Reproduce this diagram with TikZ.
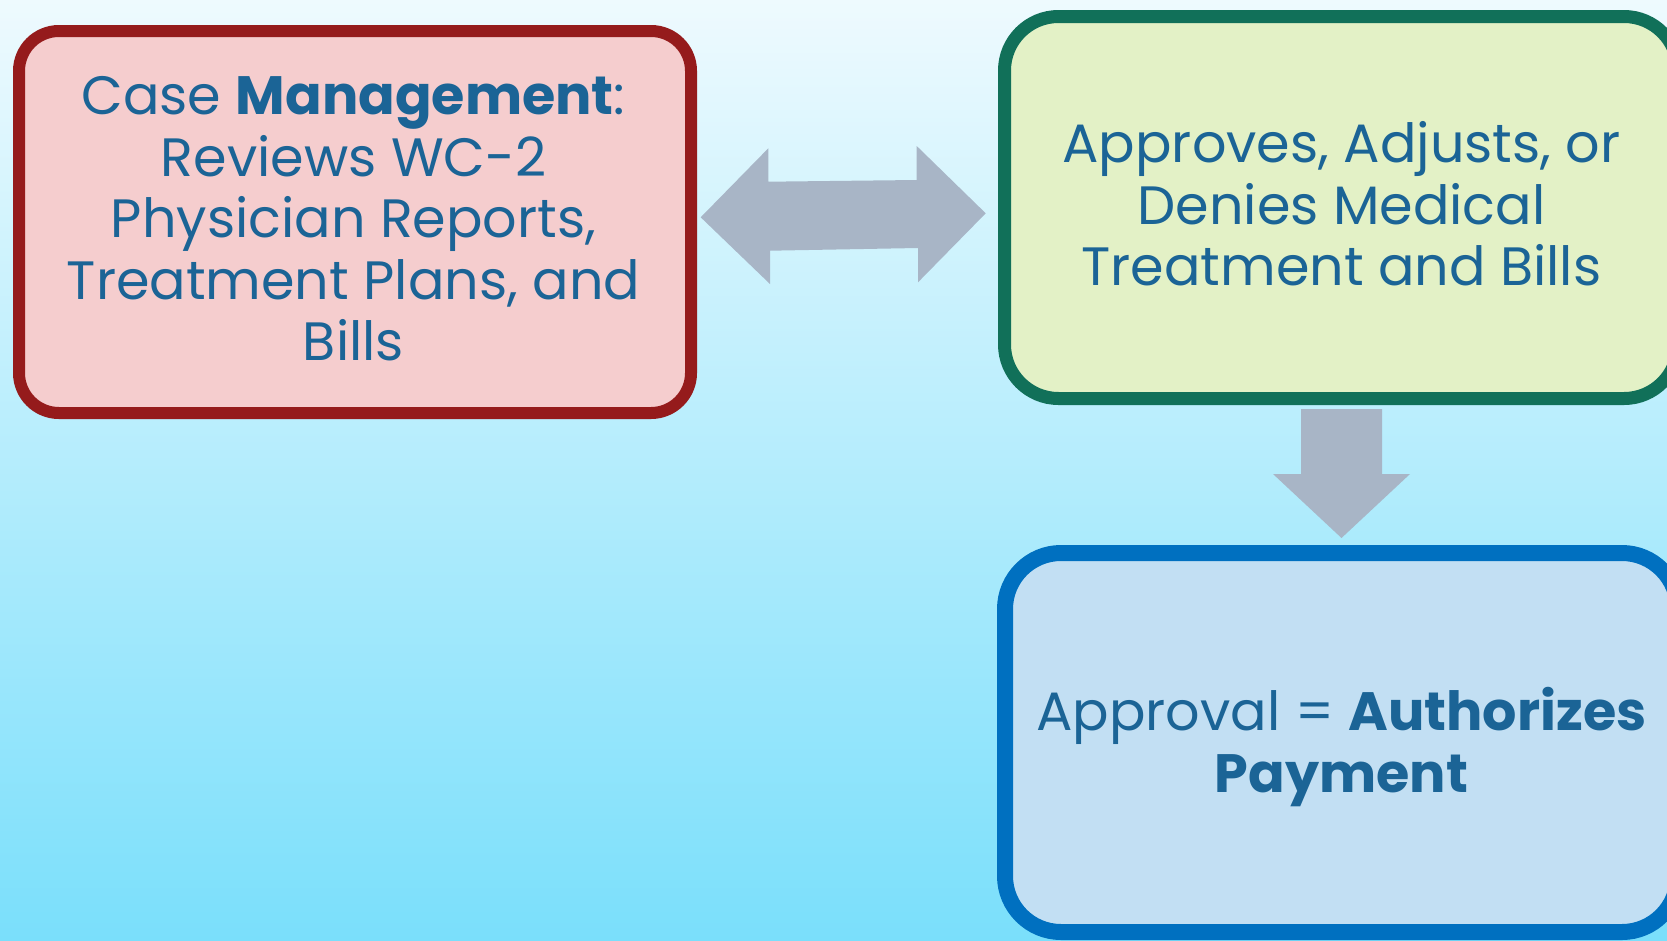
\documentclass[tikz,border=0pt]{standalone}
\usepackage{fontspec}
\setmainfont{Poppins}
\definecolor{bgtop}{RGB}{238,250,254}
\definecolor{bgbot}{RGB}{122,223,251}
\definecolor{redb}{RGB}{149,27,28}
\definecolor{redf}{RGB}{245,205,206}
\definecolor{grnb}{RGB}{17,112,89}
\definecolor{grnf}{RGB}{227,241,198}
\definecolor{blub}{RGB}{0,112,192}
\definecolor{bluf}{RGB}{194,223,243}
\definecolor{txt}{RGB}{27,100,150}
\definecolor{arr}{RGB}{168,181,198}
\begin{document}
\begin{tikzpicture}[x=1pt,y=-1pt,
  box/.style={rectangle,inner sep=0pt,outer sep=0pt},
  lbl/.style={align=center,inner sep=0pt,text=txt,font=\fontsize{54}{61.5}\selectfont},
  blockarrow/.style={fill=arr,draw=none}]
\useasboundingbox (0,0) rectangle (1667,940);
\shade[top color=bgtop,bottom color=bgbot] (0,0) rectangle (1667,940);
% boxes
\node[box,rounded corners=40pt,draw=redb,fill=redf,line width=12pt,minimum width=672pt,minimum height=382pt] (cm) at (355,222) {};
\node[box,rounded corners=54pt,draw=grnb,fill=grnf,line width=13pt,minimum width=673.5pt,minimum height=382pt] (ap) at (1341.25,207.5) {};
\node[box,rounded corners=56pt,draw=blub,fill=bluf,line width=16pt,minimum width=673pt,minimum height=379pt] (pay) at (1341.5,742.5) {};
% texts
\node[lbl] (cmtext) at (353.5,219) {Case \textbf{Management}:\\Reviews WC-2\\Physician Reports,\\Treatment Plans, and\\Bills};
\node[lbl] (aptext) at (1341.5,204) {Approves, Adjusts, or\\Denies Medical\\Treatment and Bills};
\node[lbl] (paytext) at (1341.5,747) {Approval = \textbf{Authorizes}\\\textbf{Payment}};
% double arrow between cm and ap
\coordinate (dl) at (700.7,217.3);
\coordinate (dr) at (985.7,213.3);
\fill[blockarrow] (dl) -- (768.3,148.3) -- (768.3,181.7) -- (916.7,180) -- (916.7,146) -- (dr)
  -- (918,282.3) -- (918,248) -- (770,250.7) -- (770,284) -- cycle;
% down arrow from ap to pay
\coordinate (dt) at (1341.5,409);
\coordinate (db) at (1341.5,538);
\fill[blockarrow] (1301,409) -- (1382,409) -- (1382,474) -- (1410,474) -- (db)
  -- (1273,474) -- (1301,474) -- cycle;
\end{tikzpicture}
\end{document}
